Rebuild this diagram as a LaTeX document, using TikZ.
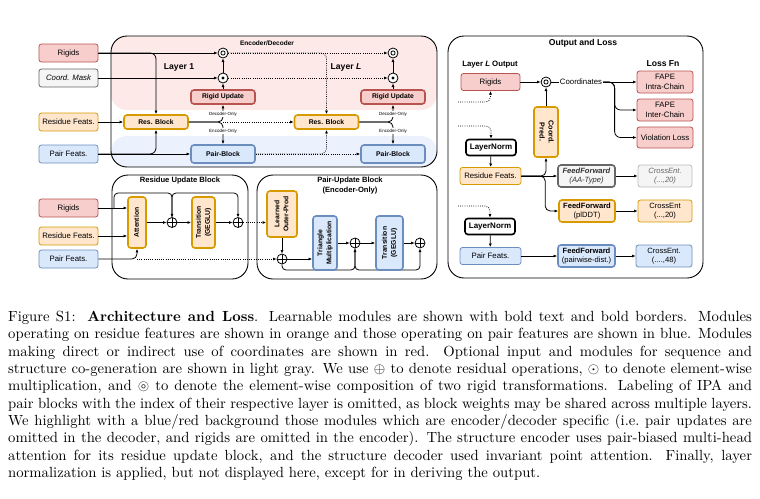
\documentclass[tikz,border=0pt]{standalone}
\usepackage{fontspec}
\usepackage{amssymb}
\usepackage{graphicx}
\usetikzlibrary{arrows.meta,positioning,calc}

\newfontfamily\figfont{Liberation Sans}
\newcommand\fLbl{\figfont\fontsize{7.8}{9.8}\selectfont}
\newcommand\fMod{\figfont\bfseries\fontsize{6.8}{9}\selectfont}
\newcommand\fTitle{\figfont\bfseries\fontsize{6.5}{7.5}\selectfont}
\newcommand\fBig{\figfont\bfseries\fontsize{8.6}{10}\selectfont}
\newcommand\fSub{\figfont\bfseries\fontsize{7.8}{9}\selectfont}
\newcommand\fBlock{\figfont\bfseries\fontsize{7.6}{10.5}\selectfont}
\newcommand\fTiny{\figfont\fontsize{4.5}{5}\selectfont}
\newcommand\fFF{\figfont\fontsize{7.6}{9.6}\selectfont}
\newcommand\fLN{\figfont\bfseries\fontsize{8}{9}\selectfont}
\newcommand\vlab[1]{\rotatebox{90}{\begin{tabular}{@{}c@{}}#1\end{tabular}}}
\newcommand\vlabR[1]{\rotatebox{-90}{\begin{tabular}{@{}c@{}}#1\end{tabular}}}

\definecolor{redfill}{HTML}{F8CECC}
\definecolor{redline}{HTML}{B85450}
\definecolor{orfill}{HTML}{FFE6CC}
\definecolor{orline}{HTML}{D79B00}
\definecolor{blfill}{HTML}{DAE8FC}
\definecolor{blline}{HTML}{6C8EBF}
\definecolor{grfill}{HTML}{F5F5F5}
\definecolor{grline}{HTML}{666666}
\colorlet{pinkbg}{redfill!45!white}
\colorlet{bluebg}{blfill!55!white}

\tikzset{
  flow/.style={line width=0.8, ->},
  dotflow/.style={flow, dash pattern=on 0.8pt off 1.4pt},
  inbox/.style={draw, line width=0.8, rounded corners=2.5, minimum width=59, minimum height=18, inner sep=1, font=\fLbl, align=center},
  inrig/.style={inbox, draw=redline, fill=redfill},
  inres/.style={inbox, draw=orline, fill=orfill},
  inpair/.style={inbox, draw=blline, fill=blfill},
  ingray/.style={inbox, draw=grline, fill=grfill, font=\fLbl\itshape},
  modbox/.style={draw, line width=1.6, rounded corners=3, inner sep=0, font=\fMod, align=center},
  modred/.style={modbox, draw=redline, fill=redfill},
  modor/.style={modbox, draw=orline, fill=orfill},
  modbl/.style={modbox, draw=blline, fill=blfill},
  modblack/.style={modbox, draw=black, fill=white},
  opnode/.style={circle, draw, line width=0.8, minimum size=10, inner sep=0, fill=white},
  compose/.style={opnode, path picture={\draw[line width=0.8] (path picture bounding box.center) circle[radius=2.1pt];}},
  mult/.style={opnode, path picture={\fill[black] (path picture bounding box.center) circle[radius=1.6pt];}},
  plus/.style={opnode, path picture={\draw[line width=0.8] (path picture bounding box.north) -- (path picture bounding box.south) (path picture bounding box.west) -- (path picture bounding box.east);}},
  panel/.style={draw, line width=0.9, rounded corners=16},
  onlytag/.style={font=\fTiny, fill=white, inner sep=0.6}
}

\begin{document}
\begin{tikzpicture}[x=1pt, y=-1pt, >={Latex[length=3.6pt,width=3pt]}]
\useasboundingbox (0,0) rectangle (760,498);

%% encoder / decoder
\fill[pinkbg, rounded corners=16] (111,36) rectangle (437,110);
\fill[bluebg, rounded corners=16] (111,136) rectangle (437,167);
\draw[panel] (111,36) rectangle (437,167);
\node[font=\fTitle] (encdec) at (267,43) {Encoder/Decoder};
\node[font=\fBig] (lay1) at (179,67) {Layer 1};
\node[font=\fBig] (layL) at (346,67) {Layer \textit{L}};

\node[inrig] (rig) at (68.5,53) {Rigids};
\node[ingray] (mask) at (68.5,78) {Coord. Mask};
\node[inres] (resf) at (68.5,122) {Residue Feats.};
\node[inpair] (pairf) at (68.5,154) {Pair Feats.};

\node[compose] (comp1) at (223,53) {};
\node[mult] (mult1) at (223,78) {};
\node[modred, minimum width=64, minimum height=14] (rigup1) at (223,97) {Rigid Update};
\node[modor, minimum width=64, minimum height=14] (res1) at (156,122) {Res. Block};
\node[modbl, minimum width=64, minimum height=18] (pairb1) at (223,154) {Pair-Block};

\node[compose] (comp2) at (393,53) {};
\node[mult] (mult2) at (393,78) {};
\node[modred, minimum width=64, minimum height=14] (rigup2) at (393,97) {Rigid Update};
\node[modor, minimum width=64, minimum height=14] (res2) at (326.5,122) {Res. Block};
\node[modbl, minimum width=64, minimum height=18] (pairb2) at (393,154) {Pair-Block};

\draw[flow] (rig) -- (comp1);
\draw[flow, rounded corners=6] (rig.east) -| (res1.north);
\draw[flow] (mask) -- (mult1);
\draw[flow] (resf) -- (res1);
\draw[flow] (pairf) -- (pairb1);
\draw[flow, rounded corners=6] (pairf.east) -| (res1.south);
\draw[flow] (rigup1) -- (mult1);
\draw[flow] (mult1) -- (comp1);
\draw[flow, rounded corners=5] (res1.east) -| (rigup1.south);
\draw[flow, rounded corners=5] (res1.east) -| (pairb1.north);
\coordinate (fork1) at (rigup1.south |- res1.east);

\draw[dotflow] (fork1) -- (res2);
\draw[dotflow] (comp1) -- (comp2);
\draw[dotflow, rounded corners=6] (comp1.east) -| (res2.north);
\draw[dotflow] (mult1) -- (mult2);
\draw[dotflow] (pairb1) -- (pairb2);
\draw[dotflow, rounded corners=6] (pairb1.east) -| (res2.south);

\draw[flow] (rigup2) -- (mult2);
\draw[flow] (mult2) -- (comp2);
\draw[flow, rounded corners=5] (res2.east) -| (rigup2.south);
\draw[flow, rounded corners=5] (res2.east) -| (pairb2.north);

\node[onlytag] (dec1) at (223,114) {Decoder-Only};
\node[onlytag] (enc1) at (223,131) {Encoder-Only};
\node[onlytag] (dec2) at (393,114) {Decoder-Only};
\node[onlytag] (enc2) at (393,131) {Encoder-Only};

%% residue update block
\draw[panel] (112,175) rectangle (248,279);
\node[font=\fBlock] (rubt) at (180,181) {Residue Update Block};

\node[inrig] (rig2) at (68.5,208) {Rigids};
\node[inres] (resf2) at (68.5,236) {Residue Feats.};
\node[inpair] (pairf2) at (68.5,259) {Pair Feats.};

\coordinate (skA) at (114,208);
\draw[flow, rounded corners=4] (skA) |- (172,193) -- (172,217.5);
\draw[flow, rounded corners=4] (172,217.5) |- (238,193) -- (238,217.5);

\node[modor, minimum width=18, minimum height=51] (att) at (137,222.5) {\vlab{Attention}};
\node[plus] (plus1) at (172,222.5) {};
\node[modor, minimum width=23, minimum height=51] (trans1) at (203.5,222.5) {\vlab{Transition\\(GEGLU)}};
\node[plus] (plus2) at (238,222.5) {};

\draw[flow] (rig2.east) -- (rig2.east -| att.west);
\draw[flow] (resf2.east) -- (resf2.east -| att.west);
\draw[flow, rounded corners=5] (pairf2.east) -| (att.south);
\draw[flow] (att) -- (plus1);
\draw[flow] (plus1) -- (trans1);
\draw[flow] (trans1) -- (plus2);

%% pair update block
\draw[panel] (257,175) rectangle (437,279);
\node[font=\fBlock, align=center] (pubt) at (350,185.5) {Pair-Update Block\\(Encoder-Only)};

\node[modor, minimum width=30, minimum height=46] (outer) at (282,214) {\vlab{Learned\\Outer-Prod}};
\node[plus] (plus3) at (282,259) {};
\node[plus] (plus4) at (355,243) {};
\node[plus] (plus5) at (420,243) {};

\draw[flow, rounded corners=4] (plus3.south) |- (355,270) -- (plus4.south);
\draw[flow, rounded corners=4] (plus4.south) |- (420,270) -- (plus5.south);

\node[modbl, minimum width=24, minimum height=54] (tri) at (325,243) {\vlab{Triangle\\Multiplication}};
\node[modbl, minimum width=27, minimum height=54] (trans2) at (389.5,243) {\vlab{Transition\\(GEGLU)}};

\draw[dotflow] (plus2) -- (plus2 -| outer.west);
\draw[dotflow] (att.south |- pairf2.east) -- (plus3);
\draw[flow] (outer) -- (plus3);
\draw[flow] (plus3) -- (plus3 -| tri.west);
\draw[flow] (tri) -- (plus4);
\draw[flow] (plus4) -- (trans2);
\draw[flow] (trans2) -- (plus5);

%% output and loss
\draw[panel] (448,36) rectangle (703,278);
\node[font=\fBig] (outt) at (583,43) {Output and Loss};
\node[font=\fSub] (lout) at (490,65) {Layer \textit{L} Output};
\node[font=\fBig] (lossfn) at (663,64) {Loss Fn};

\node[inrig, minimum height=17] (rig3) at (490.5,82) {Rigids};
\node[compose] (comp3) at (546,82) {};
\node[font=\fLbl, inner sep=1] (coordtxt) at (581,82) {Coordinates};
\node[inrig, minimum width=56, minimum height=22] (fape1) at (665,82) {FAPE\\Intra-Chain};
\node[inrig, minimum width=56, minimum height=22] (fape2) at (665,110) {FAPE\\Inter-Chain};
\node[inrig, minimum width=56, minimum height=21] (viol) at (665,137.5) {Violation Loss};
\node[modor, minimum width=24, minimum height=50, font=\figfont\bfseries\fontsize{7.2}{9}\selectfont] (cpred) at (546,132) {\vlabR{Coord.\\Pred.}};

\node[modblack, minimum width=50, minimum height=16, font=\fLN] (ln1) at (491,147.5) {LayerNorm};
\node[inres, minimum width=61, minimum height=17] (resf3) at (490.5,176) {Residue Feats.};
\node[modbox, draw=grline, fill=grfill, text=black!80, minimum width=57, minimum height=22, font=\fFF] (ffaa) at (586.5,176) {\textbf{\textit{FeedForward}}\\\textit{(AA-Type)}};
\node[inbox, draw=grline!45, fill=grfill, text=grline, minimum width=54, minimum height=22, font=\fFF\itshape] (ceaa) at (665,176) {CrossEnt.\\(...,20)};
\node[modor, minimum width=56, minimum height=22, font=\fFF] (ffpl) at (587,211) {\textbf{FeedForward}\\(plDDT)};
\node[inres, minimum width=54, minimum height=22, font=\fFF] (cepl) at (665,211) {CrossEnt\\(...,20)};

\node[modblack, minimum width=50, minimum height=16, font=\fLN] (ln2) at (490,226.5) {LayerNorm};
\node[inpair, minimum width=61, minimum height=17] (pf3) at (490.5,256) {Pair Feats.};
\node[modbl, minimum width=57, minimum height=22, font=\fFF] (ffpd) at (586.5,256) {\textbf{FeedForward}\\(pairwise-dist.)};
\node[inpair, minimum width=56, minimum height=22, font=\fFF] (cepd) at (664,256) {CrossEnt.\\(....,48)};

\draw[flow] (rig3) -- (comp3);
\draw[line width=0.8] (comp3) -- (coordtxt);
\draw[flow] (coordtxt) -- (fape1);
\draw[flow, rounded corners=6] (coordtxt.east) -| ([xshift=-22pt]fape2.west) -- (fape2.west);
\draw[flow, rounded corners=6] (coordtxt.east) -| ([xshift=-22pt]viol.west) -- (viol.west);
\draw[flow] (cpred) -- (comp3);

\coordinate (inrig3) at (458,102);
\coordinate (inres3) at (458,126);
\coordinate (inpair3) at (458,206);
\draw[dotflow, rounded corners=5] (inrig3) -| (rig3.south);
\draw[dotflow, rounded corners=5] (inres3) -| (ln1.north);
\draw[dotflow, rounded corners=5] (inpair3) -| (ln2.north);

\draw[flow] (ln1) -- (resf3);
\draw[flow] (resf3) -- (ffaa);
\draw[flow, rounded corners=5] (resf3.east) -| (cpred.south);
\draw[flow, rounded corners=5] (resf3.east) -| ([xshift=-13pt]ffpl.west) -- (ffpl.west);
\draw[flow] (ffaa) -- (ceaa);
\draw[flow] (ffpl) -- (cepl);
\draw[flow] (ln2) -- (pf3);
\draw[flow] (pf3) -- (ffpd);
\draw[flow] (ffpd) -- (cepd);

%% caption
\node[anchor=north west, inner sep=0] (caption) at (8,311) {\scalebox{1.47}{\parbox{506pt}{\fontsize{10}{11.8}\selectfont
Figure S1:\hskip0.8em\textbf{Architecture and Loss}. Learnable modules are shown with bold text and bold borders. Modules\linebreak
operating on residue features are shown in orange and those operating on pair features are shown in blue. Modules\linebreak
making direct or indirect use of coordinates are shown in red. Optional input and modules for sequence and\linebreak
structure co-generation are shown in light gray. We use $\oplus$ to denote residual operations, $\odot$ to denote element-wise\linebreak
multiplication, and $\circledcirc$ to denote the element-wise composition of two rigid transformations. Labeling of IPA and\linebreak
pair blocks with the index of their respective layer is omitted, as block weights may be shared across multiple layers.\linebreak
We highlight with a blue/red background those modules which are encoder/decoder specific (i.e.\ pair updates are\linebreak
omitted in the decoder, and rigids are omitted in the encoder). The structure encoder uses pair-biased multi-head\linebreak
attention for its residue update block, and the structure decoder used invariant point attention. Finally, layer\linebreak
normalization is applied, but not displayed here, except for in deriving the output.}}};

\end{tikzpicture}
\end{document}
